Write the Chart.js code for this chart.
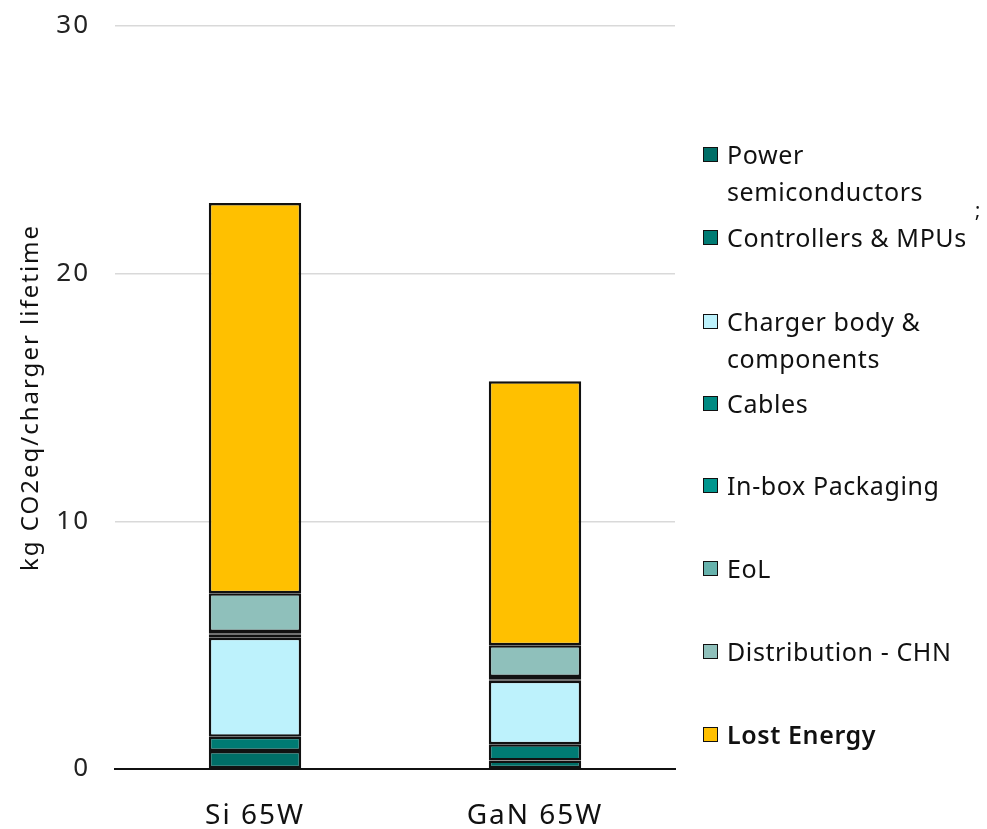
<!DOCTYPE html>
<html>
<head>
<meta charset="utf-8">
<script src="https://cdn.jsdelivr.net/npm/chart.js@4/dist/chart.umd.min.js"></script>
<style>
  html, body { margin: 0; padding: 0; background: #fff; }
  #wrap { position: relative; width: 987px; height: 829px; overflow: hidden; }
  #c { position: absolute; left: 0; top: 0; }
  .lg { position: absolute; left: 703px; font-family: "Noto Sans", sans-serif; font-size: 25px; color: #111; line-height: 37px; letter-spacing: 0.6px; }
  .lg .box { position: absolute; left: 0; width: 13px; height: 13px; border: 1.5px solid #111; }
  .lg .txt { position: absolute; left: 24px; white-space: nowrap; }
  .mark { position: absolute; left: 975px; top: 196px; font-family: "Noto Sans", sans-serif; font-size: 20px; color: #111; }
</style>
</head>
<body>
<div id="wrap">
  <canvas id="c" width="987" height="829"></canvas>
  <div class="mark">;</div>
</div>
<script>
// Carbon footprint of 65 W chargers, kg CO2eq over the charger lifetime
const categories = ["Si 65W", "GaN 65W"];
const seriesNames = [
  "Power semiconductors",
  "Controllers & MPUs",
  "Charger body & components",
  "Cables",
  "In-box Packaging",
  "EoL",
  "Distribution - CHN",
  "Lost Energy"
];
const powerSemis   = [0.73, 0.34];
const controllers  = [0.57, 0.66];
const chargerBody  = [4.00, 2.56];
const cables       = [0.12, 0.06];
const inboxPack    = [0.06, 0.05];
const endOfLife    = [0.05, 0.04];
const distribution = [1.57, 1.29];
const lostEnergy   = [15.75, 10.66];
const yTicks = [0, 10, 20, 30];

const seriesValues = [powerSemis, controllers, chargerBody, cables, inboxPack, endOfLife, distribution, lostEnergy];
const seriesColors = ["#006E67", "#007B73", "#BDF2FC", "#008A82", "#00968E", "#66B2AC", "#8FC0BB", "#FFC000"];
// legend rows: [top of first line, text lines]
const legendRows = [
  [136, ["Power", "semiconductors"]],
  [219, ["Controllers & MPUs"]],
  [303, ["Charger body &", "components"]],
  [385, ["Cables"]],
  [467, ["In-box Packaging"]],
  [550, ["EoL"]],
  [633, ["Distribution - CHN"]],
  [716, ["Lost Energy"]]
];

const datasets = seriesNames.map((name, i) => ({
  label: name,
  data: seriesValues[i],
  backgroundColor: seriesColors[i],
  borderColor: "#111",
  borderWidth: 2.5,
  borderSkipped: false,
  barPercentage: 0.33,
  categoryPercentage: 1.0
}));

const FONT = '"Noto Sans", sans-serif';

// wider tracking for all canvas text
const tracking = {
  id: "tracking",
  beforeLayout(chart) { chart.ctx.letterSpacing = "2px"; },
  beforeDraw(chart) { chart.ctx.letterSpacing = "2px"; }
};

new Chart(document.getElementById("c"), {
  type: "bar",
  data: { labels: categories, datasets },
  plugins: [tracking],
  options: {
    responsive: false,
    animation: false,
    layout: { padding: { top: 26, right: 312, bottom: 0, left: 0 } },
    plugins: { legend: { display: false }, tooltip: { enabled: false } },
    scales: {
      x: {
        stacked: true,
        grid: { display: false },
        border: { color: "#111", width: 2 },
        ticks: { color: "#111", font: { family: FONT, size: 28 }, padding: 22 },
        afterFit: s => { s.height = 60; }
      },
      y: {
        stacked: true,
        min: 0, max: 30,
        afterBuildTicks: s => { s.ticks = yTicks.map(v => ({ value: v })); },
        grid: { color: "#D9D9D9", lineWidth: 1.5, drawTicks: false },
        border: { display: false },
        ticks: { color: "#222", font: { family: FONT, size: 26 }, padding: 25 },
        title: { display: true, text: "kg CO2eq/charger lifetime", color: "#111", font: { family: FONT, size: 24 }, padding: { top: 17, bottom: 0 } },
        afterFit: s => { s.width = 115; s.paddingTop = 0; s.paddingBottom = 0; }
      }
    }
  }
});

// HTML legend built from the series lists
const wrap = document.getElementById("wrap");
legendRows.forEach(([top, lines], i) => {
  const item = document.createElement("div");
  item.className = "lg";
  item.style.top = top + "px";
  const box = document.createElement("div");
  box.className = "box";
  box.style.top = "11px";
  box.style.background = seriesColors[i];
  const txt = document.createElement("div");
  txt.className = "txt";
  txt.innerHTML = lines.join("<br>");
  if (i === seriesNames.length - 1) txt.style.fontWeight = "600";
  item.appendChild(box);
  item.appendChild(txt);
  wrap.appendChild(item);
});
</script>
</body>
</html>
